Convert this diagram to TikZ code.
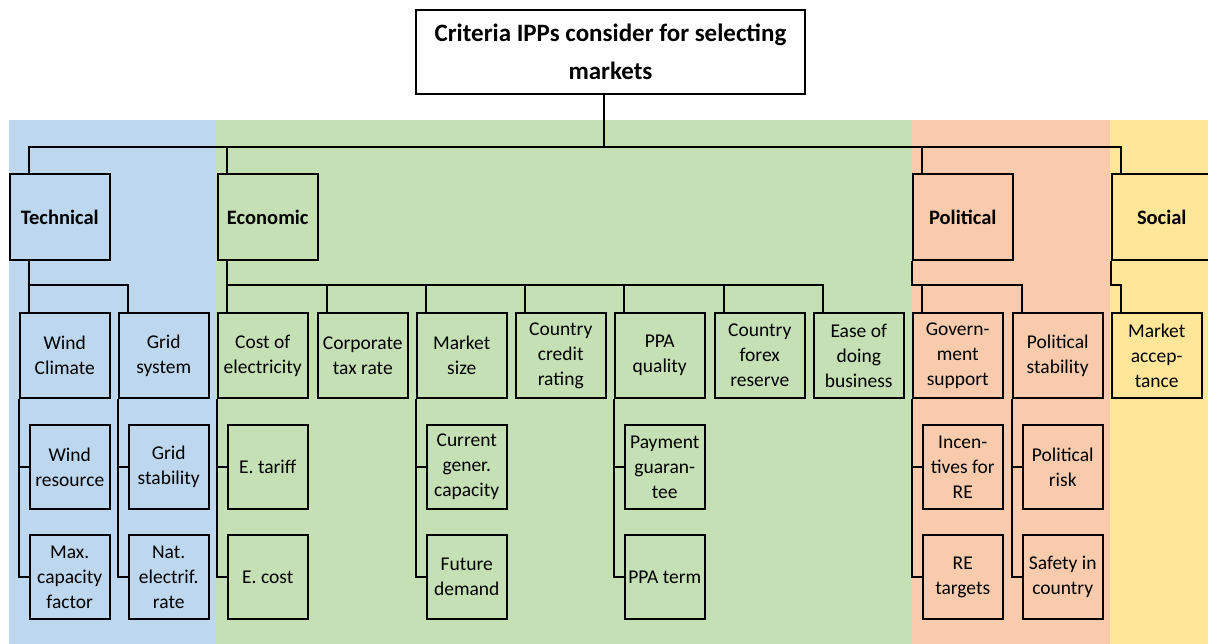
\documentclass[tikz,border=0pt]{standalone}
\usepackage{fontspec}
\setmainfont{Carlito}
\usepackage{tikz}
\definecolor{techblue}{HTML}{BDD7EE}
\definecolor{econgreen}{HTML}{C5E0B4}
\definecolor{polorange}{HTML}{F8CBAD}
\definecolor{socyellow}{HTML}{FFE699}
\begin{document}
\begin{tikzpicture}[x=1pt,y=-1pt,
  link/.style={line width=2pt},
  crit/.style={draw, line width=2pt, inner sep=0pt, anchor=north west,
    minimum width=89.5pt, minimum height=85pt, align=center,
    font=\fontsize{19.5}{25}\selectfont},
  subcrit/.style={crit, minimum width=79.5pt, minimum height=84pt},
  group/.style={crit, minimum width=99.5pt, minimum height=86pt,
    font=\fontsize{20.5}{25}\selectfont\bfseries}]
  \clip (0,0) rectangle (1208,644);
  \fill[techblue] (9,120) rectangle (216,644);
  \fill[econgreen] (216,120) rectangle (912,644);
  \fill[polorange] (912,120) rectangle (1110,644);
  \fill[socyellow] (1110,120) rectangle (1208,644);

  \node[crit, minimum width=389pt, minimum height=84pt,
    font=\fontsize{25}{38}\selectfont\bfseries] (root) at (415,9)
    {Criteria IPPs consider for selecting\\markets};

  \node[group] (tech) at (9,173) {Technical};
  \node[group] (econ) at (217,173) {Economic};
  \node[group] (pol) at (912,173) {Political};
  \node[group] (soc) at (1111,173) {Social};

  \node[crit] (windc) at (19,312) {Wind\\Climate};
  \node[crit] (grid) at (118,312) {Grid\\system};
  \node[crit] (cost) at (217,312) {Cost of\\electricity};
  \node[crit] (corp) at (317,312) {Corporate\\tax rate};
  \node[crit] (msize) at (416,312) {Market\\size};
  \node[crit] (credit) at (515,312) {Country\\credit\\rating};
  \node[crit] (ppa) at (614,312) {PPA\\quality};
  \node[crit] (forex) at (714,312) {Country\\forex\\reserve};
  \node[crit] (ease) at (813,312) {Ease of\\doing\\business};
  \node[crit] (gov) at (912,312) {Govern-\\ment\\support};
  \node[crit] (stab) at (1012,312) {Political\\stability};
  \node[crit] (accept) at (1111,312) {Market\\accep-\\tance};

  \node[subcrit] (wres) at (29,424) {Wind\\resource};
  \node[subcrit] (maxcf) at (29,534) {Max.\\capacity\\factor};
  \node[subcrit] (gstab) at (128,424) {Grid\\stability};
  \node[subcrit] (natel) at (128,534) {Nat.\\electrif.\\rate};
  \node[subcrit] (tariff) at (227,424) {E. tariff};
  \node[subcrit] (ecost) at (227,534) {E. cost};
  \node[subcrit] (curcap) at (426,424) {Current\\gener.\\capacity};
  \node[subcrit] (fdem) at (426,534) {Future\\demand};
  \node[subcrit] (payg) at (624,424) {Payment\\guaran-\\tee};
  \node[subcrit] (term) at (624,534) {PPA term};
  \node[subcrit] (incent) at (922,424) {Incen-\\tives for\\RE};
  \node[subcrit] (retgt) at (922,534) {RE\\targets};
  \node[subcrit] (prisk) at (1022,424) {Political\\risk};
  \node[subcrit] (safety) at (1022,534) {Safety in\\country};

  \coordinate (bus) at (604,147);
  \coordinate (fork) at (0,285);

  \draw[link] (root.south -| bus) -- (bus);
  \draw[link] ([xshift=20pt]tech.north west) |- ([xshift=10pt]soc.north west |- bus)
    -- ([xshift=10pt]soc.north west);
  \foreach \g in {econ,pol}
    \draw[link] ([xshift=10pt]\g.north west |- bus) -- ([xshift=10pt]\g.north west);

  \draw[link] ([xshift=20pt]tech.south west) -- ([xshift=10pt]windc.north west);
  \draw[link] ([xshift=20pt]tech.south west |- fork) -| ([xshift=10pt]grid.north west);
  \draw[link] ([xshift=10pt]econ.south west) -- ([xshift=10pt]cost.north west);
  \draw[link] ([xshift=10pt]econ.south west |- fork) -| ([xshift=10pt]ease.north west);
  \foreach \c in {corp,msize,credit,ppa,forex}
    \draw[link] ([xshift=10pt]\c.north west |- fork) -- ([xshift=10pt]\c.north west);
  \draw[link] (pol.south west) |- ([xshift=10pt]stab.north west |- fork)
    -- ([xshift=10pt]stab.north west);
  \draw[link] ([xshift=10pt]gov.north west |- fork) -- ([xshift=10pt]gov.north west);
  \draw[link] (soc.south west) |- ([xshift=10pt]accept.north west |- fork)
    -- ([xshift=10pt]accept.north west);

  \foreach \p/\s in {windc/wres,windc/maxcf,grid/gstab,grid/natel,cost/tariff,cost/ecost,
      msize/curcap,msize/fdem,ppa/payg,ppa/term,gov/incent,gov/retgt,stab/prisk,stab/safety}
    \draw[link] (\p.south west) |- (\s.west);
\end{tikzpicture}
\end{document}
